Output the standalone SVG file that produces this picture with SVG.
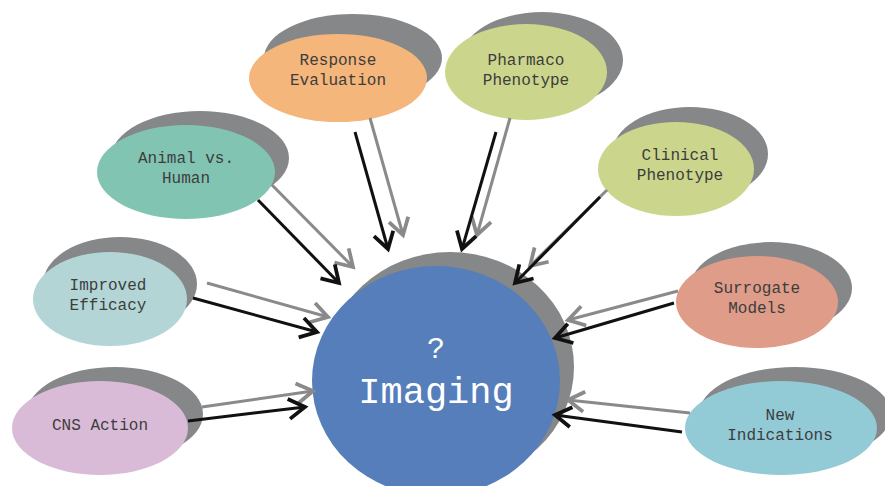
<svg xmlns="http://www.w3.org/2000/svg" width="885" height="486" viewBox="0 0 885 486">
<defs>
<style>
.sh{fill:#868788}
.t{font-family:"Liberation Mono","Courier New",monospace;font-size:16px;fill:#3d3d3d;text-anchor:middle}
.tc{font-family:"Liberation Mono","Courier New",monospace;fill:#ffffff;text-anchor:middle}
.b{stroke:#111111;stroke-width:3;fill:none;marker-end:url(#hb)}
.g{stroke:#8a8a8a;stroke-width:3;fill:none;marker-end:url(#hg)}
</style>
<marker id="hb" markerUnits="userSpaceOnUse" markerWidth="30" markerHeight="30" viewBox="-16 -12 20 24" refX="0" refY="0" orient="auto">
<path d="M-13,-8 L0,0 L-13,8" fill="none" stroke="#111111" stroke-width="3"/>
</marker>
<marker id="hg" markerUnits="userSpaceOnUse" markerWidth="30" markerHeight="30" viewBox="-16 -12 20 24" refX="0" refY="0" orient="auto">
<path d="M-13,-8 L0,0 L-13,8" fill="none" stroke="#8a8a8a" stroke-width="3"/>
</marker>
</defs>
<rect width="885" height="486" fill="#ffffff"/>

<g id="imaging">
<ellipse class="sh" cx="450" cy="367" rx="124" ry="115"/>
<ellipse cx="436" cy="381" rx="124" ry="115" fill="#557EBA"/>
<text class="tc" x="436" y="358" font-size="30">?</text>
<text class="tc" x="436" y="403" font-size="37">Imaging</text>
</g>

<g id="response-evaluation">
<ellipse class="sh" cx="353" cy="58" rx="89" ry="44"/>
<ellipse cx="338" cy="78" rx="89" ry="44" fill="#F4B67A"/>
<text class="t" x="338" y="65">Response</text>
<text class="t" x="338" y="85">Evaluation</text>
</g>

<g id="pharmaco-phenotype">
<ellipse class="sh" cx="542" cy="60" rx="81" ry="48"/>
<ellipse cx="526" cy="72" rx="81" ry="48" fill="#CBD68C"/>
<text class="t" x="526" y="65">Pharmaco</text>
<text class="t" x="526" y="85">Phenotype</text>
</g>

<g id="animal-vs-human">
<ellipse class="sh" cx="200" cy="158" rx="89" ry="47"/>
<ellipse cx="186" cy="172" rx="89" ry="47" fill="#82C4B2"/>
<text class="t" x="186" y="163">Animal vs.</text>
<text class="t" x="186" y="183">Human</text>
</g>

<g id="clinical-phenotype">
<ellipse class="sh" cx="690" cy="154" rx="78" ry="47"/>
<ellipse cx="676" cy="169" rx="78" ry="47" fill="#CBD68C"/>
<text class="t" x="680" y="160">Clinical</text>
<text class="t" x="680" y="180">Phenotype</text>
</g>

<g id="improved-efficacy">
<ellipse class="sh" cx="120" cy="284" rx="77" ry="47"/>
<ellipse cx="110" cy="299" rx="77" ry="47" fill="#B3D5D6"/>
<text class="t" x="108" y="290">Improved</text>
<text class="t" x="108" y="310">Efficacy</text>
</g>

<g id="surrogate-models">
<ellipse class="sh" cx="771" cy="288" rx="81" ry="46"/>
<ellipse cx="757" cy="302" rx="81" ry="46" fill="#DE9C89"/>
<text class="t" x="757" y="293">Surrogate</text>
<text class="t" x="757" y="313">Models</text>
</g>

<g id="cns-action">
<ellipse class="sh" cx="115" cy="414" rx="88" ry="47"/>
<ellipse cx="100" cy="428" rx="88" ry="47" fill="#D9BBD7"/>
<text class="t" x="100" y="430">CNS Action</text>
</g>

<g id="new-indications">
<ellipse class="sh" cx="795" cy="414" rx="96" ry="47"/>
<ellipse cx="781" cy="428" rx="96" ry="47" fill="#92CAD6"/>
<text class="t" x="780" y="420">New</text>
<text class="t" x="780" y="440">Indications</text>
</g>

<g id="connectors">
<line class="g" x1="370" y1="118" x2="403" y2="235"/>
<line class="b" x1="355" y1="132" x2="388" y2="249"/>
<line class="g" x1="510" y1="118" x2="477" y2="235"/>
<line class="b" x1="496" y1="132" x2="462" y2="249"/>
<line class="g" x1="272" y1="185" x2="353" y2="267"/>
<line class="b" x1="258" y1="200" x2="339" y2="283"/>
<line class="g" x1="607" y1="190" x2="530" y2="266"/>
<line class="b" x1="600" y1="197" x2="515" y2="283"/>
<line class="g" x1="207" y1="283" x2="328" y2="317"/>
<line class="b" x1="193" y1="298" x2="317" y2="332"/>
<line class="g" x1="678" y1="291" x2="568" y2="320"/>
<line class="b" x1="674" y1="303" x2="555" y2="338"/>
<line class="g" x1="202" y1="407" x2="313" y2="391"/>
<line class="b" x1="188" y1="421" x2="305" y2="407"/>
<line class="g" x1="690" y1="413" x2="568" y2="400"/>
<line class="b" x1="682" y1="432" x2="555" y2="415"/>
</g>
</svg>
